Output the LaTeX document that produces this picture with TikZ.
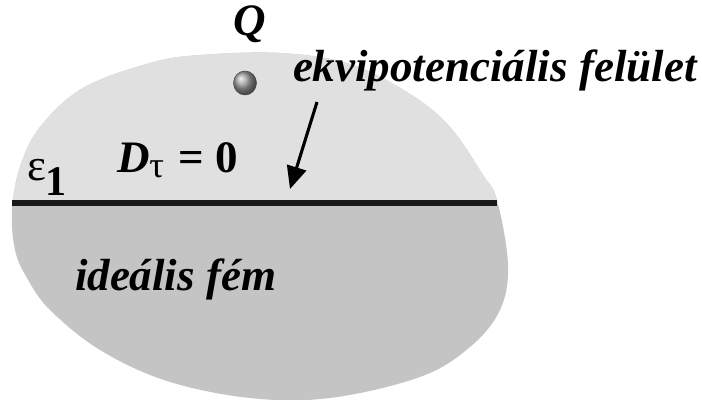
\documentclass[tikz,border=0pt]{standalone}
\usepackage{fontspec}
\setmainfont{Liberation Serif}
\usetikzlibrary{arrows.meta}
\definecolor{upgray}{RGB}{224,224,224}
\definecolor{lowgray}{RGB}{196,196,196}
\begin{document}
\begin{tikzpicture}[x=0.025cm,y=-0.025cm,
  lbl/.style={inner sep=0pt,outer sep=0pt,anchor=base west,font=\fontsize{32}{36}\selectfont\bfseries\itshape},
  pointer/.style={line width=2.2pt,-{Triangle[length=16pt,width=14pt]}}]
\useasboundingbox (0,0) rectangle (702,400);
\def\blob{plot[smooth cycle,tension=0.6] coordinates {(200,55) (150,63) (83,88) (40,127) (20,167) (12,210) (15,250) (27,278) (50,310) (100,350) (167,381) (250,398) (330,398) (420,377) (470,347) (500,310) (508,265) (497,200) (483,175) (450,127) (410,94) (350,64) (280,53)}}
\fill[lowgray] \blob;
\begin{scope}
\clip (0,0) rectangle (702,203);
\fill[upgray] \blob;
\end{scope}
\coordinate (lineL) at (12,203);
\coordinate (lineR) at (497,203);
\draw[line width=3.6pt,black!90] (lineL) -- (lineR);
\shade[ball color=gray!75] (245,83) ellipse (11.5 and 12);
\draw[gray!60!black,line width=0.4pt] (245,83) ellipse (11.5 and 12);
\node[lbl,anchor=base] (Q) at (250,36) {Q};
\node[lbl] (ekv) at (293,82) {ekvipotenciális felület};
\node[lbl] (D) at (117,172) {D\textsubscript{\normalfont\fontsize{26}{28}\selectfont τ}\hspace{0.3em}\upshape= 0};
\node[lbl] (fem) at (75,290) {ideális fém};
\node[lbl,font=\fontsize{32}{36}\selectfont] (eps) at (27,180) {ε\textsubscript{\bfseries\fontsize{30}{32}\selectfont 1}};
\coordinate (arS) at (317,102);
\coordinate (arE) at (290,189);
\draw[pointer] (arS) -- (arE);
\end{tikzpicture}
\end{document}
